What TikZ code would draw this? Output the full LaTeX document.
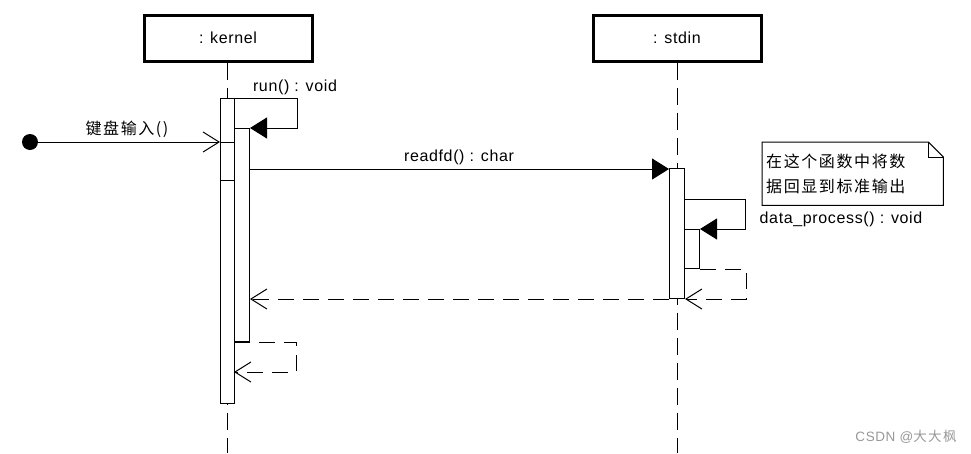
\documentclass[tikz,border=0pt]{standalone}
\usepackage{fontspec}
\setmainfont{Liberation Sans}[LetterSpace=4]
\newfontfamily\cjk{Noto Sans CJK SC}[LetterSpace=10]
\usetikzlibrary{arrows.meta}
\begin{document}
\begin{tikzpicture}[x=1pt,y=-1pt,
  every node/.style={font=\fontsize{16}{19}\selectfont},
  objbox/.style={draw, line width=3pt, minimum width=168pt, minimum height=46pt, inner sep=0pt, fill=white},
  lifeline/.style={line width=1pt, dash pattern=on 17pt off 8pt},
  act/.style={draw, fill=white, line width=1pt, inner sep=0pt, anchor=north west, minimum width=15pt},
  sync/.style={line width=1pt, -{Triangle[length=17pt,width=21pt]}},
  async/.style={line width=1pt, -{Straight Barb[length=16pt,width=20pt]}},
  ret/.style={async, dash pattern=on 16pt off 9pt},
  lbl/.style={inner sep=0pt}
]
\useasboundingbox (0,0) rectangle (971,453);
\fill[white] (0,0) rectangle (971,453);

% objects
\node[objbox] (kernel) at (228,38) {: kernel};
\node[objbox] (stdin) at (677,38) {: stdin};

% lifelines
\coordinate (kend) at (227,453);
\coordinate (send) at (677,453);
\draw[lifeline] (kernel.south -| kend) -- (kend);
\draw[lifeline] (stdin.south -| send) -- (send);

% activations
\node[act, minimum width=14pt, minimum height=305pt] (kA) at (220,98) {};
\node[act, minimum width=14pt, minimum height=38pt] (kS) at (220,142) {};
\node[act, minimum height=213pt] (kB) at (234,128) {};
\node[act, minimum height=130pt] (sA) at (669,168) {};
\node[act, minimum height=39pt] (sB) at (684,229) {};

% found message
\node[circle, fill, minimum size=16pt, inner sep=0pt] (start) at (30,142) {};
\draw[async] (start) -- (kS.north west);
\node[lbl] (lkey) at (127,129) {\cjk 键盘输入()};

% run() self call
\draw[sync] (kA.north east) -- ++(62,0) |- (kB.north east);
\node[lbl] (lrun) at (295,87) {run() : void};

% readfd
\coordinate (rd) at (249,169);
\draw[sync] (rd) -- (sA.west |- rd);
\node[lbl] (lread) at (459,157) {readfd() : char};

% data_process self call
\coordinate (dp) at (745,199);
\draw[sync] (sA.east |- dp) -- (dp) |- (sB.north east);
\node[lbl] (ldp) at (841,219) {data\_process() : void};

% returns
\draw[ret] (sB.south east) -- ++(46,0) |- (sA.south east);
\draw[ret] (sA.south west) -- (kB.east |- sA.south west);
\coordinate (kr) at (234,372);
\draw[ret] (kB.south west) -- ++(62,0) |- (kr);

% note
\node[anchor=north west, minimum width=181pt, minimum height=63pt, inner xsep=4pt, inner ysep=0pt,
      text width=173pt, align=left, font=\cjk\fontsize{16}{25}\selectfont] (note) at (762,142)
      {在这个函数中将数\\据回显到标准输出};
\draw[line width=1pt] (note.north west) -- ([xshift=-15pt]note.north east) -- ([yshift=-15pt]note.north east)
   -- (note.south east) -- (note.south west) -- cycle;
\draw[line width=1pt] ([xshift=-15pt]note.north east) |- ([yshift=-15pt]note.north east);

% watermark
\node[lbl, text=black!40, font=\fontsize{13.5}{16}\selectfont] (wm) at (906,437) {CSDN @{\cjk 大大枫}};
\end{tikzpicture}
\end{document}
